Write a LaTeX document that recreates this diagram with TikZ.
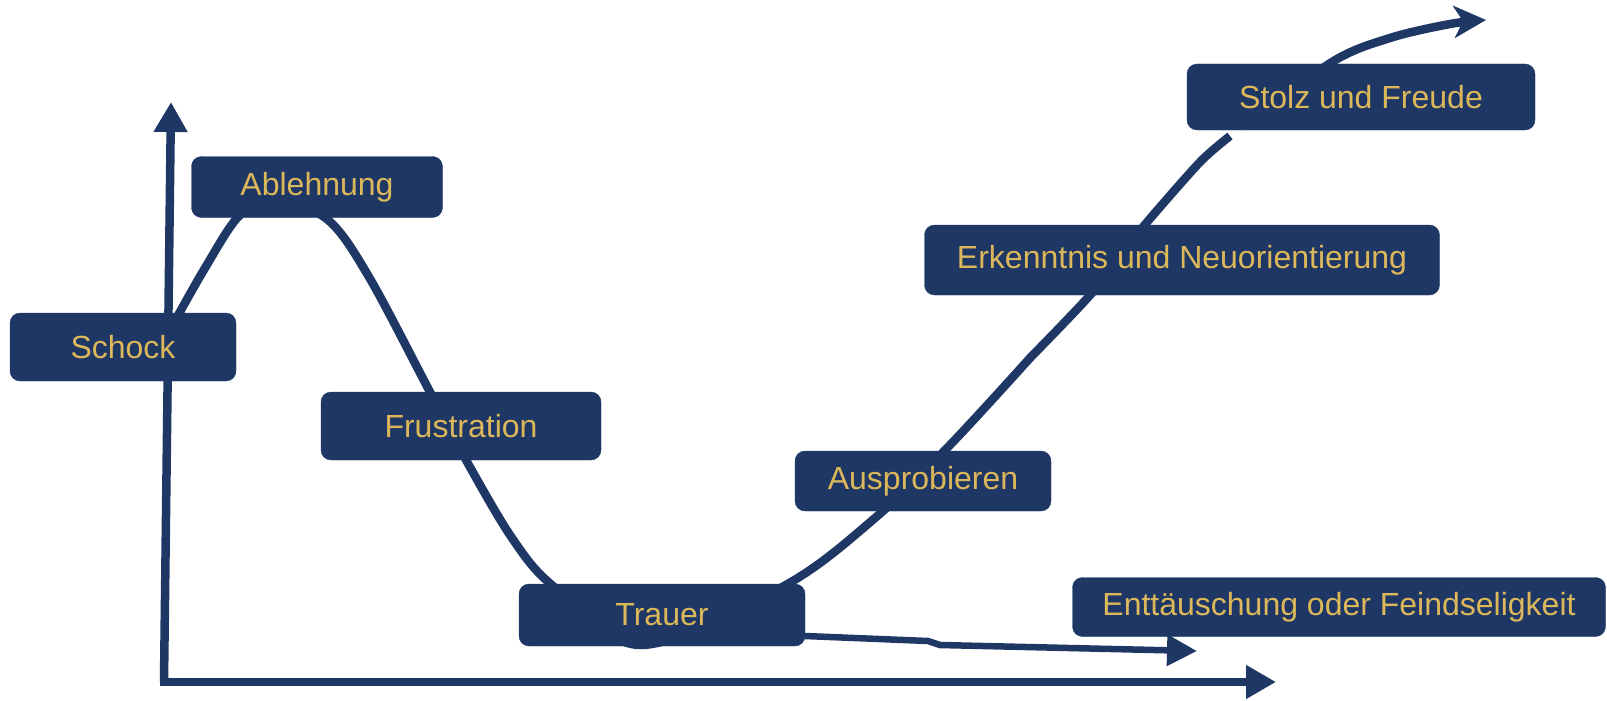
\documentclass[tikz,border=0pt]{standalone}
\usepackage{fontspec}
\setmainfont{Liberation Sans}
\usepackage{tikz}
\usetikzlibrary{arrows.meta}
\definecolor{Navy}{HTML}{1E3765}
\definecolor{Gold}{HTML}{DDB85A}
\tikzset{
  phasebox/.style={draw=Navy,fill=Navy,text=Gold,rounded corners=10pt,inner sep=0pt,align=center,font=\fontsize{32}{38}\selectfont},
  axisarrow/.style={-{Triangle[length=30pt,width=32pt]},line width=8.5pt,draw=Navy},
  curvearrow/.style={-{Stealth[length=32pt,width=32pt,inset=9pt]},line width=8.5pt,draw=Navy},
  fallarrow/.style={-{Triangle[length=30pt,width=30pt]},line width=6.5pt,draw=Navy}
}
\begin{document}
\begin{tikzpicture}[x=1pt,y=-1pt]
\useasboundingbox (0,0) rectangle (1607,701);
% axes
\coordinate (origin) at (164,682);
\coordinate (ytip) at (171,102);
\coordinate (xtip) at (1276,682);
\draw[axisarrow] (origin) -- (ytip);
\draw[axisarrow] ([xshift=-4pt]origin) -- (xtip);
% change curve
\draw[curvearrow,line join=round]
  plot[smooth,tension=0.55] coordinates {
  (170,330) (205,268) (240,215) (277,200) (328,220) (369,277) (430,392) (466,460)
  (512,538) (553,586) (641,645) (784,586) (875,518) (950,445) (1030,358)}
  plot[smooth,tension=0.4] coordinates {
  (1030,358) (1092,293) (1143,227) (1200,162) (1230,136)}
  plot[smooth,tension=0.55] coordinates {
  (1245,127) (1332,62) (1390,38) (1450,24) (1486,20)};
% disappointment branch
\coordinate (fall1) at (805,636);
\coordinate (fall2) at (928,641);
\coordinate (fall3) at (940,645);
\coordinate (falltip) at (1197,651);
\draw[fallarrow] (fall1) -- (fall2) -- (fall3) -- (falltip);
% phases
\node[phasebox,minimum width=226pt,minimum height=68pt] (schock) at (123,347) {Schock};
\node[phasebox,minimum width=251pt,minimum height=61pt] (ablehnung) at (317,187) {Ablehnung};
\node[phasebox,minimum width=280pt,minimum height=68pt] (frust) at (461,426) {Frustration};
\node[phasebox,minimum width=286pt,minimum height=62pt] (trauer) at (662,615) {Trauer};
\node[phasebox,minimum width=256pt,minimum height=60pt] (auspro) at (923,481) {Ausprobieren};
\node[phasebox,minimum width=515pt,minimum height=70pt] (erkennt) at (1182,260) {Erkenntnis und Neuorientierung};
\node[phasebox,minimum width=348pt,minimum height=66pt] (stolz) at (1361,97) {Stolz und Freude};
\node[phasebox,minimum width=533pt,minimum height=59pt] (enttaeusch) at (1339,607) {Enttäuschung oder Feindseligkeit};
\end{tikzpicture}
\end{document}
